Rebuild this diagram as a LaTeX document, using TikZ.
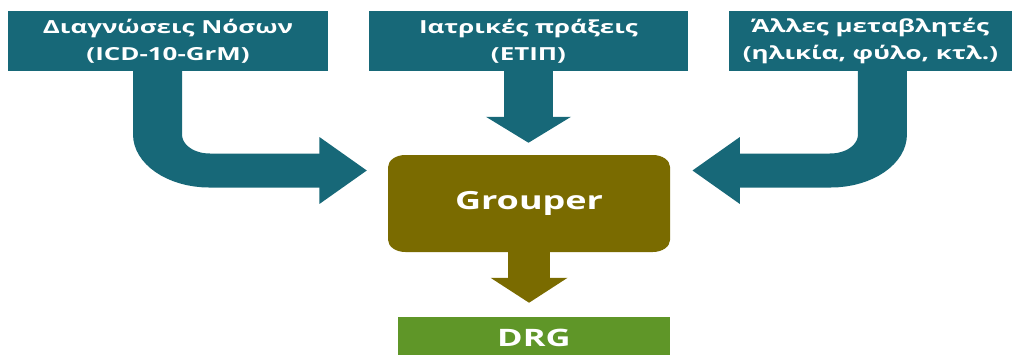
\documentclass[tikz,border=0pt]{standalone}
\usepackage{fontspec}
\setmainfont{Open Sans}
\usetikzlibrary{arrows.meta}
\definecolor{inteal}{HTML}{176878}
\definecolor{grolive}{HTML}{7A6B00}
\definecolor{drggreen}{HTML}{5F9628}
\begin{document}
\begin{tikzpicture}[x=1pt,y=1pt,
  in node/.style={fill=inteal,text=white,font=\bfseries\fontsize{18}{27}\selectfont,align=center,minimum height=60pt,inner sep=0pt},
  flow/.style={draw=inteal,line width=34pt,rounded corners=36pt}]
\useasboundingbox (0,0) rectangle (1014,354);
\begin{scope}[transform canvas={xscale=1.44}]
\node [in node,minimum width=222.2pt](diag) at (116.7,313) {Διαγνώσεις Νόσων\\(ICD-10-GrM)};
\node [in node,minimum width=221.5pt](iatr) at (367,313) {Ιατρικές πράξεις\\(ΕΤΙΠ)};
\node [in node,minimum width=196.5pt](other) at (604.5,313) {Άλλες μεταβλητές\\(ηλικία, φύλο, κτλ.)};
\node [fill=grolive,text=white,rounded corners=12pt,minimum width=195.8pt,minimum height=97pt,font=\bfseries\fontsize{25}{30}\selectfont](grouper) at (367.4,150.5) {Grouper};
\node [fill=drggreen,text=white,minimum width=188.9pt,minimum height=42pt,font=\bfseries\fontsize{24}{28}\selectfont](drg) at (370.8,16) {DRG};
% arrows into the grouper
\draw [flow,-{Triangle[length=33pt,width=65pt]},shorten >=14.5pt] ([xshift=-7.3pt]diag.south) |- ([yshift=33pt]grouper.west);
\draw [flow,-{Triangle[length=26pt,width=57.6pt]},shorten >=12pt] (iatr.south) -- (iatr.south |- grouper.north);
\draw [flow,-{Triangle[length=33pt,width=65pt]},shorten >=15.3pt] ([xshift=8.3pt]other.south) |- ([yshift=33pt]grouper.east);
\draw [flow,draw=grolive,line width=29.2pt,-{Triangle[length=25pt,width=52pt]},shorten >=14pt] (grouper.south) -- (grouper.south |- drg.north);
\end{scope}
\end{tikzpicture}
\end{document}
